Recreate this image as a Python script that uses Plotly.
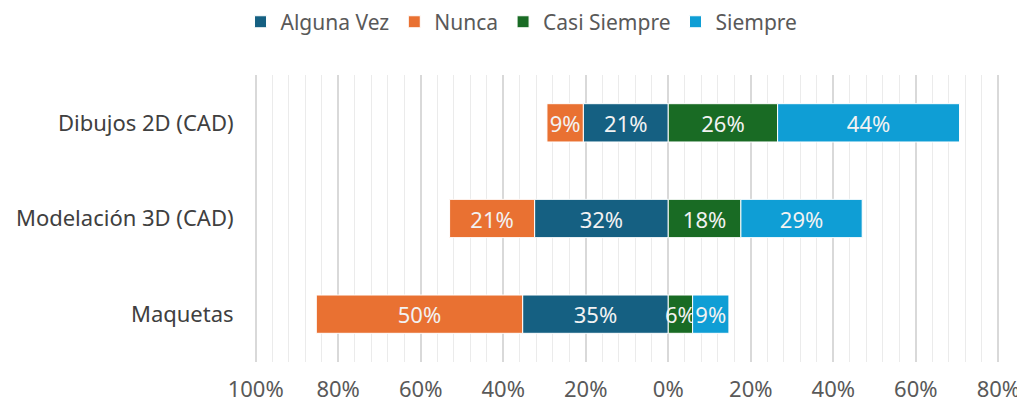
import plotly.graph_objects as go

categorias = ["Dibujos 2D (CAD)", "Modelación 3D (CAD)", "Maquetas"]

# porcentajes por respuesta (aprox.)
alguna_vez = [20.6, 32.4, 35.3]
nunca = [8.8, 20.6, 50.0]
casi_siempre = [26.5, 17.6, 5.9]
siempre = [44.1, 29.4, 8.8]

tick_vals = [-100, -80, -60, -40, -20, 0, 20, 40, 60, 80]
tick_text = ["100%", "80%", "60%", "40%", "20%", "0%", "20%", "40%", "60%", "80%"]

series = [
    ("Alguna Vez", alguna_vez, -1, "#156082"),
    ("Nunca", nunca, -1, "#E97132"),
    ("Casi Siempre", casi_siempre, 1, "#196B24"),
    ("Siempre", siempre, 1, "#0F9ED5"),
]

fig = go.Figure()
for name, vals, sign, color in series:
    fig.add_trace(go.Bar(
        y=categorias,
        x=[sign * v for v in vals],
        name=name,
        orientation="h",
        marker=dict(color=color, line=dict(color="white", width=1)),
        text=["%d%%" % round(v) for v in vals],
        textposition="inside",
        insidetextanchor="middle",
        textangle=0,
        textfont=dict(color="#f2f2f2", size=22),
    ))

# the page body has an 8px margin, so margins are shifted by that amount
fig.update_layout(
    barmode="relative",
    bargap=0.6,
    width=1025, height=403,
    margin=dict(l=246, r=33, t=67, b=49),
    plot_bgcolor="white", paper_bgcolor="white",
    font=dict(family="Noto Sans", color="#595959", size=22),
    uniformtext=dict(minsize=22, mode="show"),
    legend=dict(orientation="h", x=0.501, xref="container", xanchor="center",
                y=0.965, yref="container", yanchor="middle", itemwidth=30,
                font=dict(size=21, color="#595959"), traceorder="normal"),
    showlegend=True,
)
fig.update_xaxes(
    range=[-100.4, 80.4], automargin=False,
    tickvals=tick_vals, ticktext=tick_text,
    showgrid=True, gridcolor="#d9d9d9", gridwidth=2,
    zeroline=False,
    ticks="outside", ticklen=8, tickcolor="rgba(0,0,0,0)",
    minor=dict(dtick=4, tick0=0, showgrid=True, gridcolor="#ebebeb", gridwidth=1),
    tickfont=dict(size=22, color="#595959"),
)
fig.update_yaxes(
    categoryorder="array", categoryarray=categorias[::-1], automargin=False,
    ticks="outside", ticklen=15, tickcolor="rgba(0,0,0,0)",
    tickfont=dict(size=22, color="#404040"),
    showgrid=False,
)

fig.write_html("out.html")
